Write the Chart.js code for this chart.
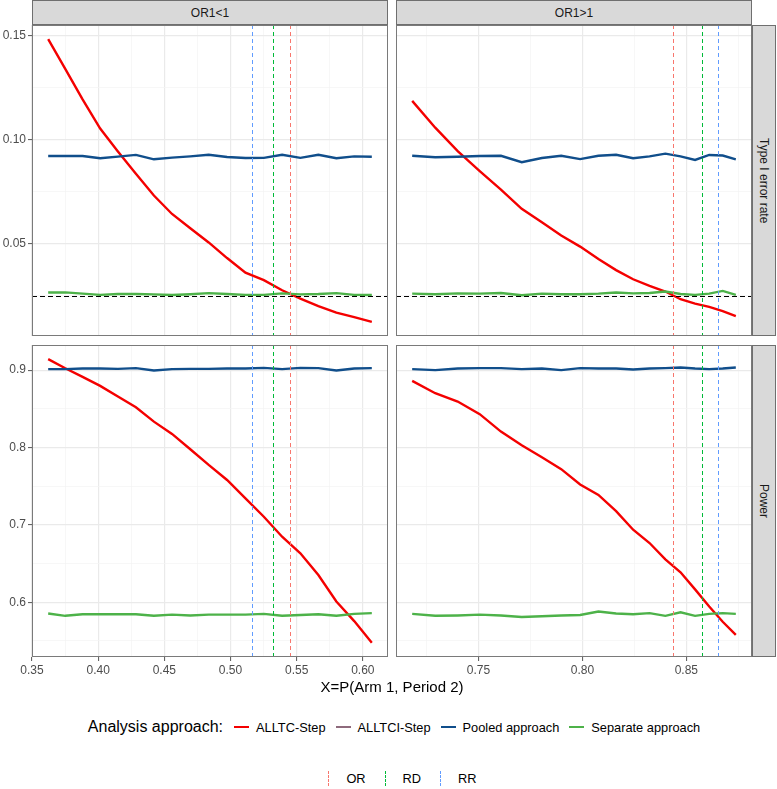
<!DOCTYPE html>
<html>
<head>
<meta charset="utf-8">
<script src="https://cdn.jsdelivr.net/npm/chart.js@4.4.1/dist/chart.umd.min.js"></script>
<style>
  body { margin: 0; background: #fff; font-family: "Liberation Sans", Arial, sans-serif; }
  #wrap { position: relative; width: 777px; height: 789px; overflow: hidden; background: #fff; }
  canvas.panel { position: absolute; }
  .strip { position: absolute; background: #D9D9D9; border: 1px solid #6f6f6f; box-sizing: border-box;
           color: #1A1A1A; font-size: 12px; display: flex; align-items: center; justify-content: center; }
  .strip.side span { writing-mode: vertical-rl; }
  #xtitle { position: absolute; left: 32px; width: 720px; top: 678px; line-height: 18px; text-align: center;
            font-size: 15px; color: #000; }
  .legend { position: absolute; left: 34px; width: 720px; height: 20px; display: flex; justify-content: center;
            align-items: center; font-size: 12.8px; color: #000; }
  .legend .ltitle { font-size: 16px; margin-right: 11px; }
  .legend .item { display: flex; align-items: center; margin-right: 10px; }
  .legend .item:last-child { margin-right: 0; }
  .legend .key { display: inline-block; width: 15px; height: 2.6px; margin-right: 7px; }
  .legend .vkey { display: inline-block; width: 0; height: 15px; margin: 0 17px 0 9px; border-left: 1px dashed; }
</style>
</head>
<body>
<div id="wrap">
  <div class="strip" style="left:32px; top:0; width:356px; height:25px;">OR1&lt;1</div>
  <div class="strip" style="left:396px; top:0; width:356px; height:25px;">OR1&gt;1</div>
  <div class="strip side" style="left:752px; top:25px; width:24px; height:311px;"><span>Type I error rate</span></div>
  <div class="strip side" style="left:752px; top:345px; width:24px; height:312px;"><span>Power</span></div>
  <div id="xtitle">X=P(Arm 1, Period 2)</div>
  <div class="legend" id="legend1" style="top:717px;"></div>
  <div class="legend" id="legend2" style="top:768px; left:38px;"></div>
</div>
<script>
// Series and colours
const seriesNames = ['ALLTC-Step', 'ALLTCI-Step', 'Pooled approach', 'Separate approach'];
const seriesColors = ['#F40000', '#8E6A7C', '#104E8B', '#4DB249'];

// X = P(Arm 1, Period 2)
const xLow = [0.3622, 0.3751, 0.3882, 0.4015, 0.4149, 0.4285, 0.4421, 0.4558, 0.4696, 0.4835,
              0.4974, 0.5113, 0.5252, 0.5390, 0.5528, 0.5664, 0.5800, 0.5935, 0.6068];
const xHigh = [0.7181, 0.7292, 0.7400, 0.7506, 0.7608, 0.7708, 0.7805, 0.7898, 0.7989, 0.8077,
               0.8162, 0.8244, 0.8323, 0.8399, 0.8472, 0.8542, 0.8610, 0.8675, 0.8738];

// Type I error rate, OR1<1
const t1LowAlltc = [0.1484, 0.1341, 0.1194, 0.1054, 0.0944, 0.0837, 0.0732, 0.0643, 0.0574, 0.0506,
                    0.0431, 0.0361, 0.0325, 0.0276, 0.0236, 0.0200, 0.0168, 0.0147, 0.0124];
const t1LowPooled = [0.0922, 0.0922, 0.0922, 0.0911, 0.0919, 0.0927, 0.0906, 0.0914, 0.0920, 0.0928,
                     0.0917, 0.0912, 0.0913, 0.0928, 0.0913, 0.0928, 0.0911, 0.0920, 0.0918];
const t1LowSeparate = [0.0265, 0.0266, 0.0260, 0.0254, 0.0258, 0.0258, 0.0256, 0.0253, 0.0257, 0.0262,
                       0.0258, 0.0254, 0.0254, 0.0261, 0.0256, 0.0258, 0.0262, 0.0254, 0.0253];
// Type I error rate, OR1>1
const t1HighAlltc = [0.1187, 0.1058, 0.0945, 0.0849, 0.0760, 0.0668, 0.0603, 0.0539, 0.0486, 0.0426,
                     0.0373, 0.0329, 0.0297, 0.0270, 0.0233, 0.0212, 0.0196, 0.0176, 0.0152];
const t1HighPooled = [0.0923, 0.0916, 0.0918, 0.0922, 0.0923, 0.0892, 0.0912, 0.0923, 0.0907, 0.0923,
                      0.0928, 0.0911, 0.0920, 0.0933, 0.0920, 0.0903, 0.0927, 0.0924, 0.0906];
const t1HighSeparate = [0.0260, 0.0257, 0.0261, 0.0260, 0.0263, 0.0252, 0.0260, 0.0257, 0.0257, 0.0260,
                        0.0265, 0.0261, 0.0263, 0.0270, 0.0258, 0.0254, 0.0260, 0.0273, 0.0254];
// Power, OR1<1
const powLowAlltc = [0.9142, 0.9025, 0.8913, 0.8797, 0.8659, 0.8521, 0.8335, 0.8176, 0.7978, 0.7775,
                     0.7581, 0.7344, 0.7106, 0.6847, 0.6633, 0.6352, 0.6010, 0.5757, 0.5476];
const powLowPooled = [0.9013, 0.9013, 0.9021, 0.9021, 0.9017, 0.9026, 0.8995, 0.9013, 0.9017, 0.9017,
                      0.9021, 0.9021, 0.9030, 0.9013, 0.9030, 0.9026, 0.8995, 0.9021, 0.9026];
const powLowSeparate = [0.5855, 0.5825, 0.5845, 0.5845, 0.5845, 0.5845, 0.5825, 0.5840, 0.5830, 0.5840,
                        0.5840, 0.5840, 0.5850, 0.5825, 0.5835, 0.5845, 0.5825, 0.5850, 0.5860];
// Power, OR1>1
const powHighAlltc = [0.8862, 0.8702, 0.8594, 0.8431, 0.8206, 0.8029, 0.7874, 0.7721, 0.7523, 0.7387,
                      0.7178, 0.6938, 0.6766, 0.6555, 0.6387, 0.6167, 0.5945, 0.5748, 0.5578];
const powHighPooled = [0.9013, 0.9000, 0.9021, 0.9026, 0.9026, 0.9013, 0.9021, 0.9000, 0.9026, 0.9021,
                       0.9021, 0.9008, 0.9021, 0.9026, 0.9034, 0.9021, 0.9013, 0.9021, 0.9034];
const powHighSeparate = [0.5850, 0.5825, 0.5830, 0.5840, 0.5830, 0.5810, 0.5820, 0.5830, 0.5835, 0.5880,
                         0.5855, 0.5845, 0.5860, 0.5825, 0.5870, 0.5825, 0.5850, 0.5860, 0.5850];

// Reference lines
const vlineNames = ['OR', 'RD', 'RR'];
const vlineColors = ['#F8766D', '#00BA38', '#619CFF'];
const vlineLow = [0.5447, 0.5319, 0.5166];
const vlineHigh = [0.8438, 0.8575, 0.8652];
const alphaLevel = 0.025;

// Axis breaks and tick labels
const xBreaksLow = [0.35, 0.40, 0.45, 0.50, 0.55, 0.60];
const xLabelsLow = ['0.35', '0.40', '0.45', '0.50', '0.55', '0.60'];
const xMinorLow = [0.375, 0.425, 0.475, 0.525, 0.575];
const xBreaksHigh = [0.75, 0.80, 0.85];
const xLabelsHigh = ['0.75', '0.80', '0.85'];
const xMinorHigh = [0.725, 0.775, 0.825, 0.875];
const yBreaksT1 = [0.05, 0.10, 0.15];
const yLabelsT1 = ['0.05', '0.10', '0.15'];
const yMinorT1 = [0.025, 0.075, 0.125];
const yBreaksPow = [0.6, 0.7, 0.8, 0.9];
const yLabelsPow = ['0.6', '0.7', '0.8', '0.9'];
const yMinorPow = [0.55, 0.65, 0.75, 0.85];

const wrap = document.getElementById('wrap');
const PAD = 14;
const FONT = '"Liberation Sans", Arial, sans-serif';

// ggplot style 5% expansion of the data range
function expandRange(arrays) {
    const all = [].concat(...arrays);
    const lo = Math.min(...all), hi = Math.max(...all);
    const e = (hi - lo) * 0.05;
    return [lo - e, hi + e];
}
const xLimLow = expandRange([xLow]);
const xLimHigh = expandRange([xHigh]);
const yLimT1 = expandRange([t1LowAlltc, t1LowPooled, t1LowSeparate, t1HighAlltc, t1HighPooled, t1HighSeparate]);
const yLimPow = expandRange([powLowAlltc, powLowPooled, powLowSeparate, powHighAlltc, powHighPooled, powHighSeparate]);

function isBreak(v, arr) {
    return arr.some(b => Math.abs(b - v) < 1e-9);
}

function axisOpts(isY, show, size, lim, breaks, minor, labels) {
    const major = c => c.tick && isBreak(c.tick.value, breaks);
    return {
        type: 'linear',
        min: lim[0],
        max: lim[1],
        afterBuildTicks: ax => { ax.ticks = breaks.concat(minor).sort((a, b) => a - b).map(v => ({ value: v })); },
        afterFit: s => { if (isY) s.width = size; else s.height = size; },
        ticks: {
            display: show, autoSkip: false, maxRotation: 0, padding: 2,
            color: '#4D4D4D', font: { family: FONT, size: 12 },
            callback: v => {
                const i = breaks.findIndex(b => Math.abs(b - v) < 1e-9);
                return i >= 0 ? labels[i] : '';
            }
        },
        grid: {
            drawTicks: show, tickLength: 4, tickWidth: 1,
            color: c => major(c) ? '#EAEAEA' : '#F3F3F3',
            lineWidth: c => major(c) ? 1.2 : 0.7,
            tickColor: c => major(c) ? '#555555' : 'rgba(0,0,0,0)'
        },
        border: { display: false }
    };
}

// vertical / horizontal reference lines and panel border
const panelDecor = {
    id: 'panelDecor',
    afterDatasetsDraw(chart, args, o) {
        const { ctx, chartArea: a, scales: { x, y } } = chart;
        ctx.save();
        ctx.beginPath();
        ctx.rect(a.left, a.top, a.width, a.height);
        ctx.clip();
        ctx.lineWidth = 1;
        ctx.setLineDash([4, 3]);
        o.vlines.forEach((v, i) => {
            const px = Math.round(x.getPixelForValue(v)) + 0.5;
            ctx.strokeStyle = vlineColors[i];
            ctx.beginPath();
            ctx.moveTo(px, a.top);
            ctx.lineTo(px, a.bottom);
            ctx.stroke();
        });
        if (o.hline != null) {
            const py = Math.round(y.getPixelForValue(o.hline)) + 0.5;
            ctx.strokeStyle = '#000';
            ctx.lineWidth = 1.1;
            ctx.setLineDash([5, 3]);
            ctx.beginPath();
            ctx.moveTo(a.left, py);
            ctx.lineTo(a.right, py);
            ctx.stroke();
        }
        ctx.restore();
        ctx.save();
        ctx.strokeStyle = '#7a7a7a';
        ctx.lineWidth = 1;
        ctx.strokeRect(a.left + 0.5, a.top + 0.5, a.width - 1, a.height - 1);
        ctx.restore();
    }
};

function lineSet(i, xs, ys) {
    return {
        label: seriesNames[i],
        data: xs.map((x, k) => ({ x: x, y: ys[k] })),
        borderColor: seriesColors[i],
        backgroundColor: seriesColors[i],
        borderWidth: 2.4,
        pointRadius: 0,
        tension: 0,
        fill: false,
        order: 4 - i // first series drawn underneath, as in ggplot
    };
}

function makePanel(box, showX, showY, xs, sets, xAxis, yAxis, vlines, hline) {
    const yW = showY ? 32 : 0;
    const xH = showX ? 22 : 0;
    const canvas = document.createElement('canvas');
    canvas.className = 'panel';
    canvas.width = box.w + yW + 2 * PAD;
    canvas.height = box.h + xH + 2 * PAD;
    canvas.style.left = (box.left - yW - PAD) + 'px';
    canvas.style.top = (box.top - PAD) + 'px';
    wrap.insertBefore(canvas, wrap.firstChild);

    new Chart(canvas, {
        type: 'line',
        data: {
            datasets: [lineSet(0, xs, sets[0]), lineSet(2, xs, sets[1]), lineSet(3, xs, sets[2])]
        },
        options: {
            responsive: false,
            animation: false,
            devicePixelRatio: 1,
            events: [],
            layout: { padding: PAD },
            scales: {
                x: axisOpts(false, showX, xH, xAxis.lim, xAxis.breaks, xAxis.minor, xAxis.labels),
                y: axisOpts(true, showY, yW, yAxis.lim, yAxis.breaks, yAxis.minor, yAxis.labels)
            },
            plugins: {
                legend: { display: false },
                tooltip: { enabled: false },
                panelDecor: { vlines: vlines, hline: hline }
            }
        },
        plugins: [panelDecor]
    });
}

const xAxLow = { lim: xLimLow, breaks: xBreaksLow, minor: xMinorLow, labels: xLabelsLow };
const xAxHigh = { lim: xLimHigh, breaks: xBreaksHigh, minor: xMinorHigh, labels: xLabelsHigh };
const yAxT1 = { lim: yLimT1, breaks: yBreaksT1, minor: yMinorT1, labels: yLabelsT1 };
const yAxPow = { lim: yLimPow, breaks: yBreaksPow, minor: yMinorPow, labels: yLabelsPow };

makePanel({ left: 32, top: 25, w: 356, h: 311 }, false, true, xLow,
    [t1LowAlltc, t1LowPooled, t1LowSeparate], xAxLow, yAxT1, vlineLow, alphaLevel);
makePanel({ left: 396, top: 25, w: 356, h: 311 }, false, false, xHigh,
    [t1HighAlltc, t1HighPooled, t1HighSeparate], xAxHigh, yAxT1, vlineHigh, alphaLevel);
makePanel({ left: 32, top: 345, w: 356, h: 312 }, true, true, xLow,
    [powLowAlltc, powLowPooled, powLowSeparate], xAxLow, yAxPow, vlineLow, null);
makePanel({ left: 396, top: 345, w: 356, h: 312 }, true, false, xHigh,
    [powHighAlltc, powHighPooled, powHighSeparate], xAxHigh, yAxPow, vlineHigh, null);

// Legends
const legend1 = document.getElementById('legend1');
legend1.innerHTML = '<span class="ltitle">Analysis approach:</span>' + seriesNames.map((n, i) =>
    `<span class="item"><span class="key" style="background:${seriesColors[i]}"></span>${n}</span>`).join('');
const legend2 = document.getElementById('legend2');
legend2.innerHTML = vlineNames.map((n, i) =>
    `<span class="item"><span class="vkey" style="border-color:${vlineColors[i]}"></span>${n}</span>`).join('');
</script>
</body>
</html>
